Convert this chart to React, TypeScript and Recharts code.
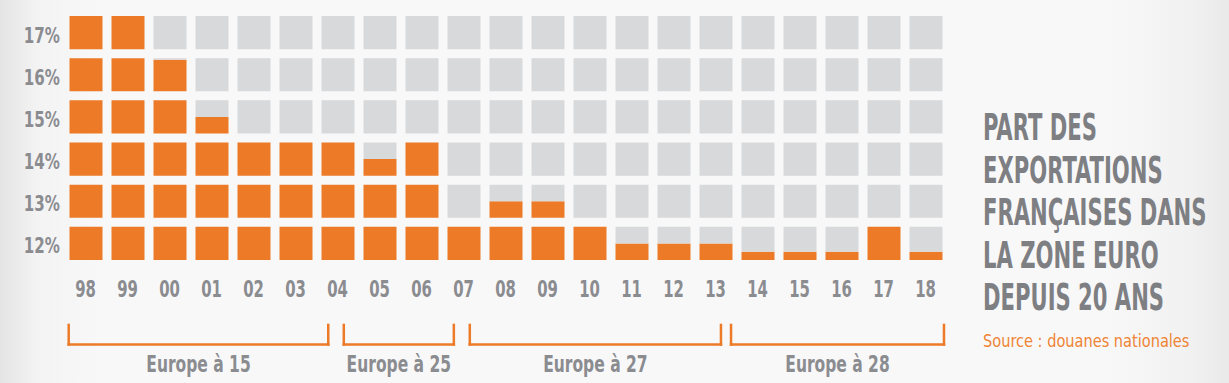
import { BarChart, Bar, XAxis, YAxis, ReferenceLine } from "recharts";

// years on the x axis and share of French exports (%)
const years = ["98", "99", "00", "01", "02", "03", "04", "05", "06", "07", "08", "09", "10", "11", "12", "13", "14", "15", "16", "17", "18"];
const shares = [17, 17, 15.95, 14.5, 14, 14, 14, 13.5, 14, 12, 12.5, 12.5, 12, 11.5, 11.5, 11.5, 11.25, 11.25, 11.25, 12, 11.25];

// one row of squares per percentage point, bottom row starts at 11%
const rowLabels = ["12%", "13%", "14%", "15%", "16%", "17%"];
const ROW_BASE = 11;

// EU enlargement brackets, in column index units
const groupLabels = ["Europe à 15", "Europe à 25", "Europe à 27", "Europe à 28"];
const groupStart = [-0.4, 6.15, 9.15, 15.37];
const groupEnd = [5.78, 8.77, 15.13, 20.44];

const titleLines = ["PART DES", "EXPORTATIONS", "FRANÇAISES DANS", "LA ZONE EURO", "DEPUIS 20 ANS"];

const ORANGE = "#ec7a27";
const CELL_GRAY = "#d8d9db";
const TEXT_GRAY = "#8b8c90";
const FONT = "'DejaVu Sans Condensed', 'Liberation Sans Narrow', sans-serif";

const CELL = 1;
const GAP = 9 / 33;
const STEP = CELL + GAP;
const TOP = rowLabels.length * STEP - GAP;
const BRACKET_TOP = -1.96;
const BRACKET_BASE = -2.55;

const data = years.map((year, i) => {
  const d: Record<string, number | string> = { year, idx: i };
  rowLabels.forEach((_, r) => {
    const f = Math.max(0, Math.min(1, shares[i] - (ROW_BASE + r)));
    d[`o${r}`] = f * CELL;
    d[`g${r}`] = (1 - f) * CELL;
    if (r < rowLabels.length - 1) d[`s${r}`] = GAP;
  });
  return d;
});

const rowTicks = rowLabels.map((_, r) => r * STEP + CELL / 2);

// condensed text: squeeze horizontally around the anchor point
const Squeezed = ({ x, y, sx, anchor, size, fill, bold, children }: any) => (
  <text
    transform={`translate(${x} ${y}) scale(${sx} 1)`}
    textAnchor={anchor}
    fill={fill}
    fontFamily={FONT}
    fontWeight={bold ? "bold" : "normal"}
    fontSize={size}
  >
    {children}
  </text>
);

const XTick = ({ x, y, payload }: any) => (
  <Squeezed x={x} y={y + 37} sx={0.72} anchor="middle" size={23} fill={TEXT_GRAY} bold>
    {payload.value}
  </Squeezed>
);

const YTick = ({ x, y, index }: any) => (
  <Squeezed x={x - 4.5} y={y + 10} sx={0.8} anchor="end" size={21} fill={TEXT_GRAY} bold>
    {rowLabels[index]}
  </Squeezed>
);

const GroupLabel = ({ viewBox, text }: any) => (
  <Squeezed x={viewBox.x + viewBox.width / 2} y={viewBox.y + 27.5} sx={0.75} anchor="middle" size={23} fill={TEXT_GRAY} bold>
    {text}
  </Squeezed>
);

export default function App() {
  const bars: JSX.Element[] = [];
  rowLabels.forEach((_, r) => {
    bars.push(<Bar key={`o${r}`} dataKey={`o${r}`} stackId="w" fill={ORANGE} isAnimationActive={false} />);
    bars.push(<Bar key={`g${r}`} dataKey={`g${r}`} stackId="w" fill={CELL_GRAY} isAnimationActive={false} />);
    if (r < rowLabels.length - 1)
      bars.push(<Bar key={`s${r}`} dataKey={`s${r}`} stackId="w" fill="transparent" isAnimationActive={false} />);
  });

  const brackets: JSX.Element[] = [];
  groupLabels.forEach((label, g) => {
    const a = groupStart[g];
    const b = groupEnd[g];
    const common = { xAxisId: "idx", stroke: ORANGE, strokeWidth: 2.5, strokeLinecap: "square" as const, ifOverflow: "visible" as const };
    brackets.push(<ReferenceLine key={`l${g}`} {...common} segment={[{ x: a, y: BRACKET_TOP }, { x: a, y: BRACKET_BASE }]} />);
    brackets.push(<ReferenceLine key={`r${g}`} {...common} segment={[{ x: b, y: BRACKET_TOP }, { x: b, y: BRACKET_BASE }]} />);
    brackets.push(
      <ReferenceLine
        key={`h${g}`}
        {...common}
        segment={[{ x: a, y: BRACKET_BASE }, { x: b, y: BRACKET_BASE }]}
        label={(props: any) => <GroupLabel {...props} text={label} />}
      />
    );
  });

  return (
    <div
      style={{
        position: "absolute",
        left: 0,
        top: 0,
        width: 1229,
        height: 383,
        overflow: "hidden",
        background: "linear-gradient(to right, #e4e4e5 0%, #f3f3f4 3%, #f8f8f9 8%, #f8f8f9 90%, #f1f1f2 97%, #e9e9ea 100%)",
      }}
    >
      <BarChart width={1229} height={383} data={data} margin={{ top: 16, right: 282.5, bottom: 0, left: 0 }} barSize={33}>
        <XAxis dataKey="year" height={123} tickLine={false} axisLine={false} tickSize={0} tickMargin={0} interval={0} tick={<XTick />} />
        <XAxis xAxisId="idx" dataKey="idx" type="number" domain={[-0.5, years.length - 0.5]} allowDataOverflow hide />
        <YAxis
          type="number"
          domain={[0, TOP]}
          ticks={rowTicks}
          width={64.5}
          tickLine={false}
          axisLine={false}
          tickSize={0}
          tickMargin={0}
          interval={0}
          tick={<YTick />}
          allowDataOverflow
        />
        {bars}
        {brackets}
      </BarChart>
      <svg width={1229} height={383} style={{ position: "absolute", left: 0, top: 0, pointerEvents: "none" }}>
        {titleLines.map((line, i) => (
          <Squeezed key={line} x={983} y={140 + i * 42.5} sx={0.635} anchor="start" size={37} fill="#7e7f83" bold>
            {line}
          </Squeezed>
        ))}
        <Squeezed x={983} y={347} sx={0.9} anchor="start" size={18} fill="#ef8434">
          Source : douanes nationales
        </Squeezed>
      </svg>
    </div>
  );
}
